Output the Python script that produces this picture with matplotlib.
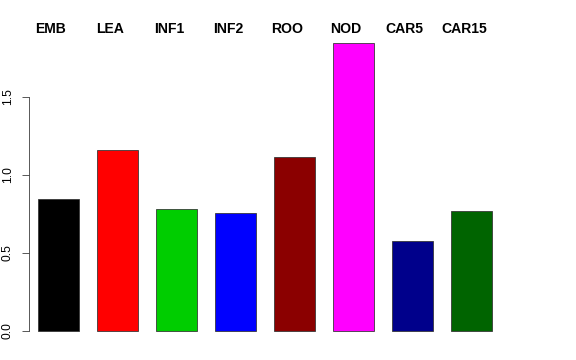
import numpy as np
import matplotlib
matplotlib.use('Agg')
import matplotlib.pyplot as plt

plt.rcParams['font.family'] = ['Liberation Sans', 'DejaVu Sans']

tissues = ['EMB', 'LEA', 'INF1', 'INF2', 'ROO', 'NOD', 'CAR5', 'CAR15']
values = [0.846, 1.160, 0.782, 0.756, 1.115, 1.846, 0.577, 0.769]
colors = ['black', 'red', '#00CD00', 'blue', '#8B0000', 'magenta', '#00008B', '#006400']

fig = plt.figure(figsize=(8, 5), dpi=72)
ax = fig.add_axes([29/576, 20/360, 531/576, 320/360])

x = np.arange(len(tissues))
ax.bar(x, values, width=0.7, color=colors, edgecolor='#333333', linewidth=0.8)

# labels on top, bold
for xi, name in zip(x, tissues):
    ax.text(xi - 0.13, 1.936, name, ha='center', va='center',
            fontsize=14, fontweight='bold')

ax.set_xlim(-0.5, 8.5)
ax.set_ylim(-0.058, 1.994)

for s in ['top', 'right', 'bottom']:
    ax.spines[s].set_visible(False)
ax.spines['left'].set_bounds(0, 1.5)
ax.spines['left'].set_color('#333333')
ax.spines['left'].set_linewidth(0.8)

ax.set_xticks([])
ax.set_yticks([0, 0.5, 1.0, 1.5])
ax.set_yticklabels(['0.0', '0.5', '1.0', '1.5'], rotation=90, va='center', fontsize=12)
ax.tick_params(axis='y', length=7, width=0.8, color='#333333', pad=8)

fig.savefig('out.png', dpi=72)
